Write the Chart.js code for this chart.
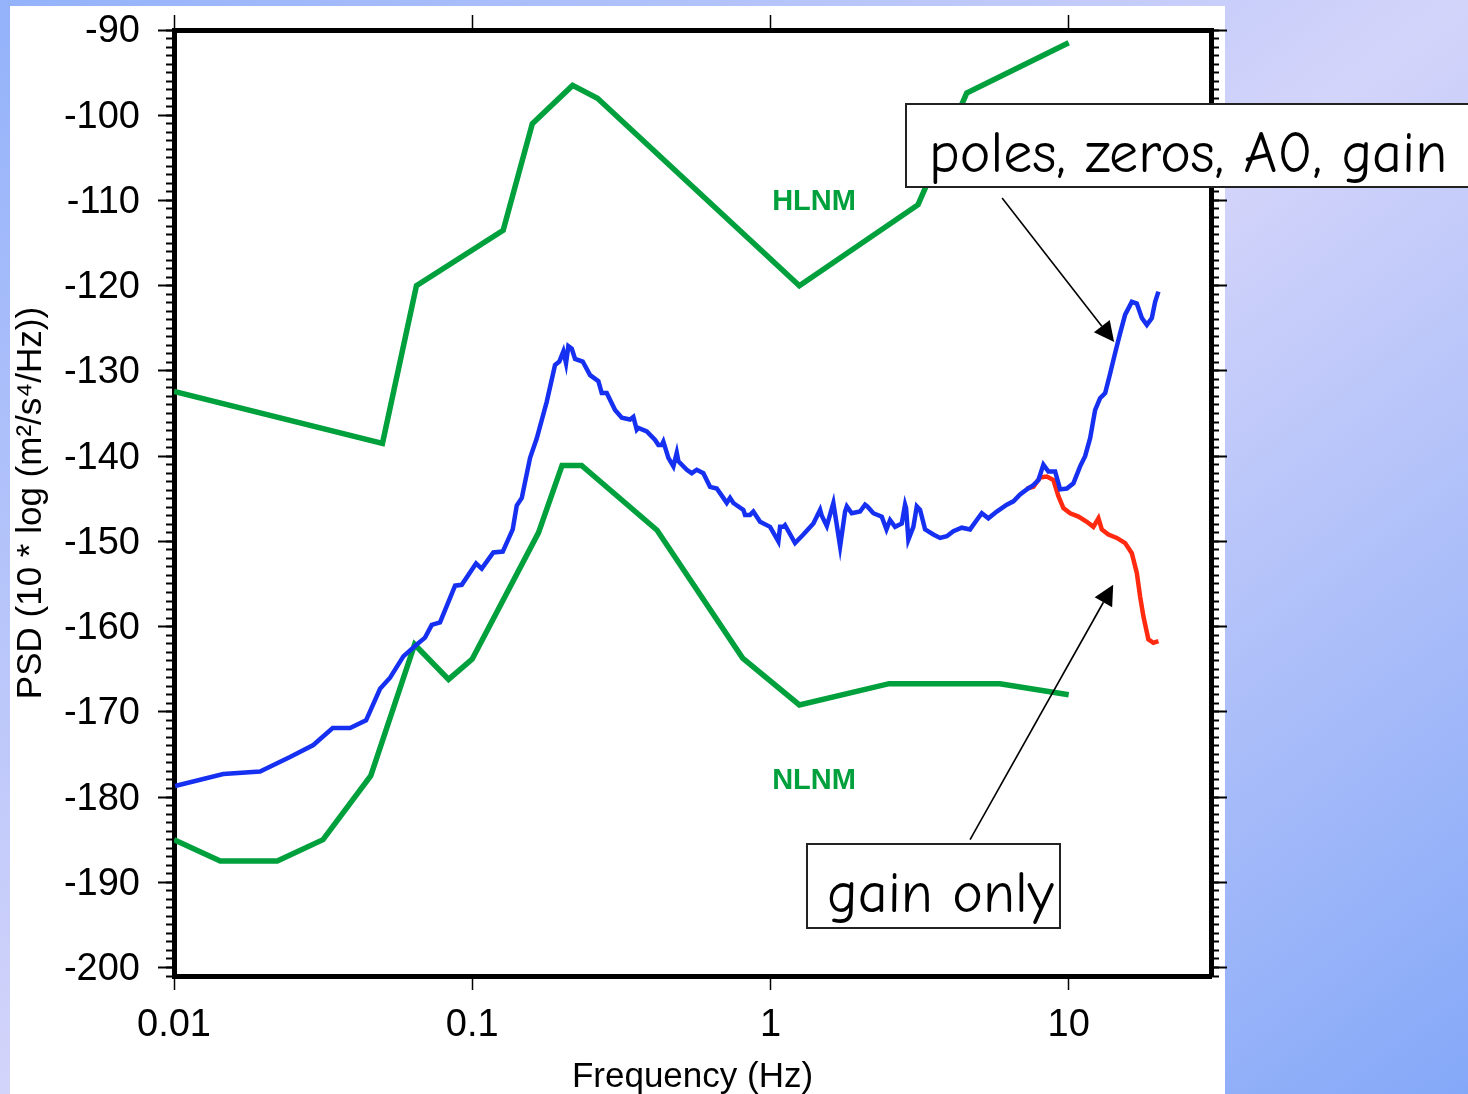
<!DOCTYPE html>
<html>
<head>
<meta charset="utf-8">
<title>PSD vs noise models</title>
<script src="https://cdn.jsdelivr.net/npm/chart.js@4.4.1/dist/chart.umd.min.js"></script>
<style>
  html, body { margin: 0; padding: 0; }
  body {
    width: 1468px; height: 1094px; position: relative; overflow: hidden;
    background: linear-gradient(to bottom right, #93b2fa 0%, #d3d4fa 50%, #84a8f8 100%);
  }
  #panel { position: absolute; left: 10px; top: 6px; width: 1215px; height: 1088px; background: #fff; }
  #wrap { position: absolute; left: 0; top: 0; width: 1468px; height: 1094px; }
  .note {
    position: absolute; background: #fff; border: 2px solid #222; box-sizing: border-box;
    font-family: "Comic Sans MS", "Comic Neue", "Open Sans", sans-serif;
    font-size: 58px; line-height: 58px; color: #000; white-space: nowrap;
  }
  #noteFull { left: 905px; top: 103px; width: 620px; height: 85px; padding: 20px 0 0 22px; }
  #noteGain { left: 806px; top: 843px; width: 255px; height: 86px; padding: 20px 0 0 19px; }
</style>
</head>
<body>
<div id="panel"></div>
<div id="wrap"><canvas id="psd" width="1468" height="1094"></canvas></div>
<div class="note" id="noteFull">poles, zeros, A0, gain</div>
<div class="note" id="noteGain">gain only</div>

<script>
// ---- data ----
const xTickValues = [0.01, 0.1, 1, 10];
const xTickLabels = ['0.01', '0.1', '1', '10'];
const yTickValues = [-90, -100, -110, -120, -130, -140, -150, -160, -170, -180, -190, -200];

// Peterson high / low noise models
const hlnmFreq = [0.01, 0.05, 0.065, 0.127, 0.159, 0.217, 0.263, 1.25, 3.125, 4.55, 10];
const hlnmPsd  = [-132.4, -138.5, -120.0, -113.5, -101.0, -96.5, -98.0, -120.0, -110.5, -97.4, -91.5];

const nlnmFreq = [0.01, 0.01429, 0.0222, 0.0316, 0.0457, 0.0641, 0.0833, 0.1, 0.1667, 0.2, 0.2326,
                  0.4167, 0.8065, 1.25, 2.5, 5.88, 10];
const nlnmPsd  = [-185.0, -187.5, -187.5, -185.0, -177.5, -162.1, -166.2, -163.8, -149.0, -141.1, -141.1,
                  -148.7, -163.7, -169.2, -166.7, -166.7, -168.0];

// station PSD computed with poles, zeros, A0 and gain
const sensorFreq = [
  0.01008, 0.01463, 0.01943, 0.02449, 0.02932, 0.03405, 0.03894, 0.04405, 0.04908, 0.05302,
  0.05875, 0.06516, 0.06946, 0.07315, 0.07798, 0.08761, 0.09222, 0.1030, 0.1076, 0.1177,
  0.1266, 0.1367, 0.1410, 0.1466, 0.1563, 0.1646, 0.1778, 0.1895, 0.1959, 0.2021,
  0.2063, 0.2100, 0.2156, 0.2212, 0.2347, 0.2484, 0.2648, 0.2718, 0.2825, 0.3012,
  0.3172, 0.3382, 0.3470, 0.3562, 0.3606, 0.3848, 0.4103, 0.4209, 0.4321, 0.4374,
  0.4547, 0.4726, 0.4851, 0.4912, 0.5241, 0.5447, 0.5660, 0.5956, 0.6272, 0.6605,
  0.6950, 0.7136, 0.7320, 0.7508, 0.8111, 0.8218, 0.8541, 0.8761, 0.9228, 0.9969,
  1.063, 1.077, 1.105, 1.119, 1.209, 1.289, 1.393, 1.467, 1.486, 1.545,
  1.625, 1.712, 1.779, 1.803, 1.873, 1.997, 2.076, 2.113, 2.213, 2.362,
  2.449, 2.518, 2.617, 2.756, 2.827, 2.849, 2.900, 3.014, 3.095, 3.174,
  3.299, 3.517, 3.704, 3.901, 4.105, 4.380, 4.670, 4.918, 5.112, 5.379,
  5.740, 6.201, 6.525, 6.871, 7.236, 7.615, 7.915, 8.226, 8.550, 9.004,
  9.359, 9.854, 10.37, 10.92, 11.35, 11.80, 12.26, 12.74, 13.25, 13.77,
  14.31, 14.87, 15.46, 16.28, 16.92, 17.59, 18.28, 19.00, 19.49, 19.99
];
const fullResponsePsd = [
  -178.7, -177.3, -177.0, -175.3, -173.9, -171.9, -171.9, -171.0, -167.3, -166.0,
  -163.5, -162.1, -161.3, -159.8, -159.5, -155.2, -155.1, -152.6, -153.2, -151.3,
  -151.2, -148.6, -145.8, -144.9, -140.2, -137.9, -133.6, -129.3, -128.9, -127.7,
  -129.1, -127.1, -127.4, -128.6, -128.9, -130.5, -131.2, -132.6, -132.6, -134.6,
  -135.5, -135.7, -135.4, -136.9, -136.7, -137.1, -138.1, -138.7, -138.7, -138.3,
  -140.2, -141.2, -139.6, -140.6, -141.6, -142.0, -141.6, -142.0, -143.6, -143.8,
  -144.9, -145.5, -144.9, -145.5, -146.3, -146.9, -146.9, -146.5, -147.7, -148.3,
  -150.0, -148.3, -148.3, -148.1, -150.2, -149.2, -147.9, -146.3, -147.0, -148.2,
  -145.5, -150.6, -146.5, -145.9, -146.7, -146.5, -145.7, -145.9, -146.7, -147.1,
  -148.6, -147.5, -148.3, -147.9, -145.7, -146.1, -149.8, -148.3, -145.9, -146.3,
  -148.6, -149.2, -149.6, -149.4, -148.8, -148.4, -148.6, -147.5, -146.7, -147.3,
  -146.5, -145.7, -145.3, -144.5, -143.9, -143.4, -142.8, -141.0, -141.8, -141.8,
  -143.9, -143.8, -143.2, -141.2, -140.0, -137.9, -134.6, -133.2, -132.6, -130.3,
  -127.9, -125.6, -123.4, -121.9, -122.1, -123.8, -124.6, -123.8, -121.9, -120.7
];

// same station, gain only
const gainFreq = [7.236, 7.615, 8.019, 8.445, 8.887, 9.236, 9.599, 10.11, 10.78, 11.50, 12.10, 12.58,
                  12.91, 13.59, 14.50, 15.46, 16.28, 16.92, 17.36, 17.80, 18.50, 19.23, 19.99];
const gainOnlyPsd = [-143.8, -143.6, -142.5, -142.4, -142.8, -144.7, -146.1, -146.7, -147.1, -147.7, -148.3, -147.3,
                     -148.6, -149.2, -149.6, -150.2, -151.4, -153.7, -156.5, -158.8, -161.5, -161.9, -161.7];

// labels and callout arrows, in data coordinates
const modelLabels = [
  { text: 'HLNM', x: 1.4, y: -110.2 },
  { text: 'NLNM', x: 1.4, y: -178.1 }
];
const calloutArrows = [
  { from: [5.98, -109.7], to: [14.2, -126.6] },
  { from: [4.67, -185.0], to: [14.1, -155.1] }
];

// ---- styling ----
const FONT = "'Liberation Sans', Arial, Helvetica, sans-serif";
const GREEN = '#00a03c';
const Y_MIN = -201, Y_MAX = -90;
const X_MIN = 0.01, X_MAX = 30;

const yMinorValues = [];
for (let v = Y_MAX; v >= Y_MIN; v--) yMinorValues.push(v);

const toPoints = (xs, ys) => xs.map((x, i) => ({ x: x, y: ys[i] }));
const setTicks = values => scale => { scale.ticks = values.map(v => ({ value: v })); };
const fixHeight = h => scale => { scale.height = h; };
// fixed width, and no extra room asked for the end labels
const fixWidth = w => scale => {
  scale.width = w;
  scale.paddingTop = 0;
  scale.paddingBottom = 0;
};

// frame-only axis (tick marks + border, no labels)
function tickAxis(type, position, weight, values, length, size, borderWidth) {
  const horizontal = position === 'top' || position === 'bottom';
  return {
    type: type,
    position: position,
    weight: weight,
    min: horizontal ? X_MIN : Y_MIN,
    max: horizontal ? X_MAX : Y_MAX,
    afterBuildTicks: setTicks(values),
    afterFit: horizontal ? fixHeight(size) : fixWidth(size),
    ticks: { display: false },
    grid: { drawOnChartArea: false, tickLength: length, tickColor: '#000', tickWidth: horizontal ? 1.5 : 2 },
    border: { display: borderWidth > 0, color: '#000', width: borderWidth || 1 }
  };
}

const annotationPlugin = {
  id: 'annotations',
  afterDatasetsDraw(chart) {
    const { ctx, scales: { x, y } } = chart;
    ctx.save();
    ctx.fillStyle = GREEN;
    ctx.font = "bold 29px " + FONT;
    ctx.textAlign = 'center';
    ctx.textBaseline = 'middle';
    modelLabels.forEach(l => ctx.fillText(l.text, x.getPixelForValue(l.x), y.getPixelForValue(l.y)));

    ctx.strokeStyle = '#000';
    ctx.fillStyle = '#000';
    ctx.lineWidth = 1.6;
    calloutArrows.forEach(a => {
      const x0 = x.getPixelForValue(a.from[0]), y0 = y.getPixelForValue(a.from[1]);
      const x1 = x.getPixelForValue(a.to[0]), y1 = y.getPixelForValue(a.to[1]);
      const ang = Math.atan2(y1 - y0, x1 - x0);
      const len = 20, half = 10;
      const bx = x1 - len * Math.cos(ang), by = y1 - len * Math.sin(ang);
      ctx.beginPath();
      ctx.moveTo(x0, y0);
      ctx.lineTo(bx, by);
      ctx.stroke();
      ctx.beginPath();
      ctx.moveTo(x1, y1);
      ctx.lineTo(bx + half * Math.sin(ang), by - half * Math.cos(ang));
      ctx.lineTo(bx - half * Math.sin(ang), by + half * Math.cos(ang));
      ctx.closePath();
      ctx.fill();
    });
    ctx.restore();
  }
};

const lineStyle = { pointRadius: 0, tension: 0, fill: false, xAxisID: 'x', yAxisID: 'y' };

new Chart(document.getElementById('psd'), {
  type: 'line',
  data: {
    datasets: [
      Object.assign({ label: 'poles, zeros, A0, gain', data: toPoints(sensorFreq, fullResponsePsd),
        borderColor: '#1530f0', borderWidth: 4.5, order: 0 }, lineStyle),
      Object.assign({ label: 'gain only', data: toPoints(gainFreq, gainOnlyPsd),
        borderColor: '#ff2a10', borderWidth: 4.5, order: 1 }, lineStyle),
      Object.assign({ label: 'HLNM', data: toPoints(hlnmFreq, hlnmPsd),
        borderColor: GREEN, borderWidth: 5.5, order: 2 }, lineStyle),
      Object.assign({ label: 'NLNM', data: toPoints(nlnmFreq, nlnmPsd),
        borderColor: GREEN, borderWidth: 5.5, order: 3 }, lineStyle)
    ]
  },
  options: {
    responsive: false,
    animation: false,
    layout: { padding: 0 },
    plugins: { legend: { display: false }, tooltip: { enabled: false } },
    scales: {
      x: {
        type: 'logarithmic',
        position: 'bottom',
        min: X_MIN,
        max: X_MAX,
        afterBuildTicks: setTicks(xTickValues),
        afterFit: fixHeight(118),
        ticks: {
          callback: (v, i) => xTickLabels[i],
          color: '#000', font: { family: FONT, size: 38 },
          padding: 13, maxRotation: 0, autoSkip: false
        },
        grid: { drawOnChartArea: false, tickLength: 14, tickColor: '#000', tickWidth: 1.5 },
        border: { color: '#000', width: 5 },
        title: {
          display: true, text: 'Frequency (Hz)', color: '#000',
          font: { family: FONT, size: 35 }, padding: { top: 0, bottom: -4 }
        }
      },
      xTop: tickAxis('logarithmic', 'top', 1, xTickValues, 15, 30, 5),
      y: {
        type: 'linear',
        position: 'left',
        weight: 2,
        min: Y_MIN,
        max: Y_MAX,
        afterBuildTicks: setTicks(yTickValues),
        afterFit: fixWidth(174),
        ticks: {
          color: '#000', font: { family: FONT, size: 38 },
          padding: 18, labelOffset: 2, autoSkip: false
        },
        grid: { drawOnChartArea: false, tickLength: 16, tickColor: '#000', tickWidth: 2 },
        border: { color: '#000', width: 5 },
        title: {
          display: true, text: 'PSD (10 * log (m²/s⁴/Hz))', color: '#000',
          font: { family: FONT, size: 35 }, padding: { top: 10, bottom: 0 }
        }
      },
      yMinor: tickAxis('linear', 'left', 1, yMinorValues, 8, 0, 0),
      yRight: tickAxis('linear', 'right', 2, yTickValues, 16, 257, 5),
      yRightMinor: tickAxis('linear', 'right', 1, yMinorValues, 8, 0, 0)
    }
  },
  plugins: [annotationPlugin]
});
</script>
</body>
</html>
